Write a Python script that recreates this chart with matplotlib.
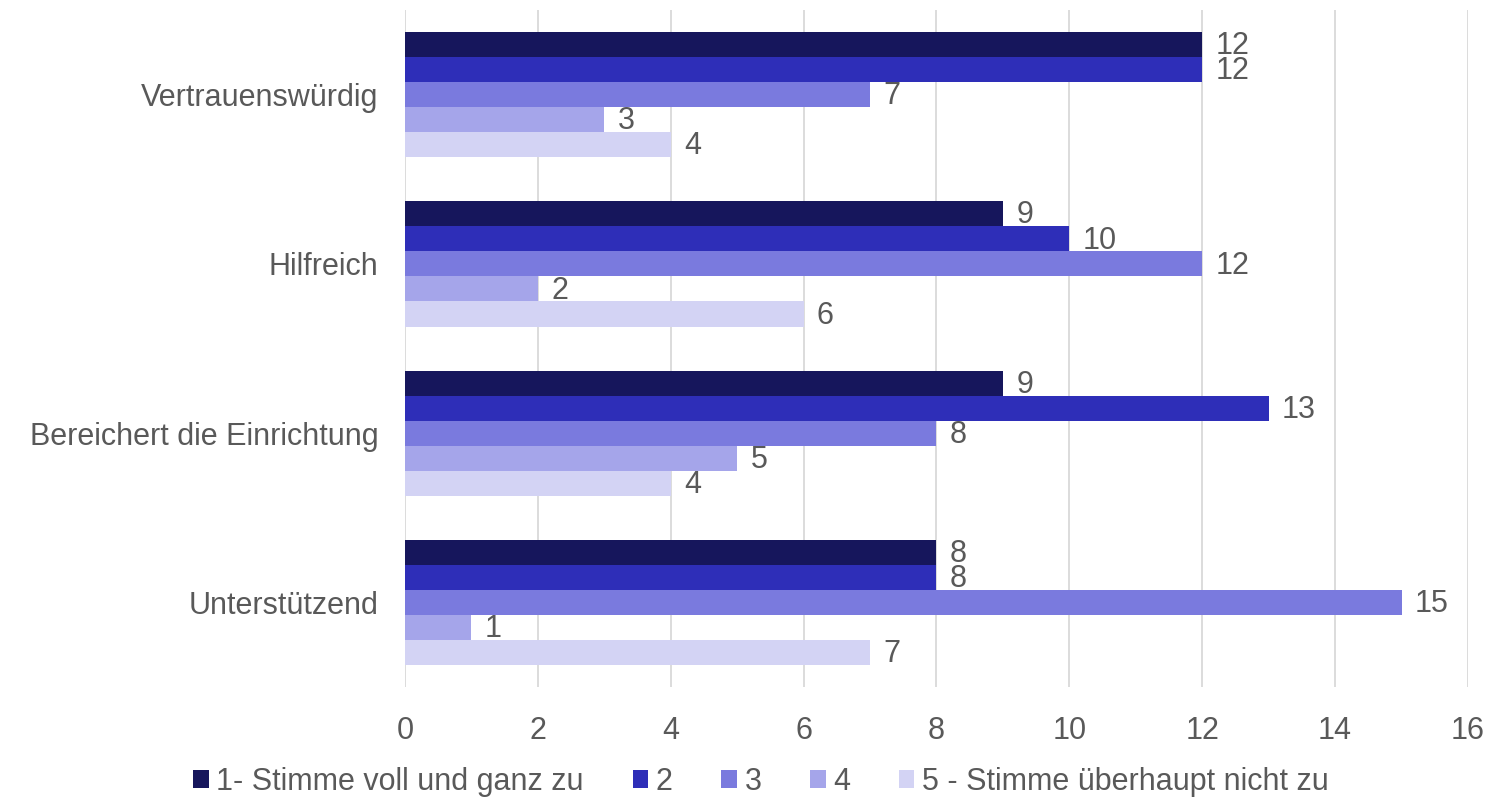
import numpy as np
import matplotlib.pyplot as plt

plt.rcParams['font.family'] = ['Liberation Sans', 'DejaVu Sans']

categories = ['Vertrauenswürdig', 'Hilfreich', 'Bereichert die Einrichtung', 'Unterstützend']
series_names = ['1- Stimme voll und ganz zu', '2', '3', '4', '5 - Stimme überhaupt nicht zu']
s1 = [12, 9, 9, 8]
s2 = [12, 10, 13, 8]
s3 = [7, 12, 8, 15]
s4 = [3, 2, 5, 1]
s5 = [4, 6, 4, 7]
colors = ['#16165c', '#2e2eb8', '#7a7ade', '#a5a5ea', '#d3d3f4']

txt = '#595959'
fs = 22
fig = plt.figure(figsize=(14.9, 8.01), dpi=100)
ax = fig.add_axes((0.2718, 0.1423, 0.7134, 0.8452))

y = np.arange(len(categories))
bh = 0.148
for i, vals in enumerate([s1, s2, s3, s4, s5]):
    pos = y - 2 * bh + i * bh
    bars = ax.barh(pos, vals, height=bh, color=colors[i], label=series_names[i], zorder=3)
    for b, v in zip(bars, vals):
        ax.text(v + 0.2, b.get_y() + bh / 2 + 0.01, str(v), va='center', ha='left',
                fontsize=fs, color=txt, zorder=4)

ax.set_xlim(0, 16)
ax.set_ylim(len(categories) - 0.5, -0.5)
ax.set_xticks(range(0, 17, 2))
ax.set_yticks(y)
ax.set_yticklabels(categories)
ax.tick_params(axis='both', length=0, labelsize=fs, labelcolor=txt)
ax.tick_params(axis='x', pad=21)
ax.tick_params(axis='y', pad=19)
ax.grid(axis='x', color='#d9d9d9', linewidth=1.3, zorder=0)
for s in ax.spines.values():
    s.set_visible(False)

ax.legend(loc='center', bbox_to_anchor=(0.335, -0.14), ncol=5, frameon=False,
          fontsize=fs, labelcolor=txt, handlelength=0.5, handleheight=0.5,
          handletextpad=0.25, columnspacing=1.6, borderpad=0)

fig.savefig('out.png', dpi=100)
